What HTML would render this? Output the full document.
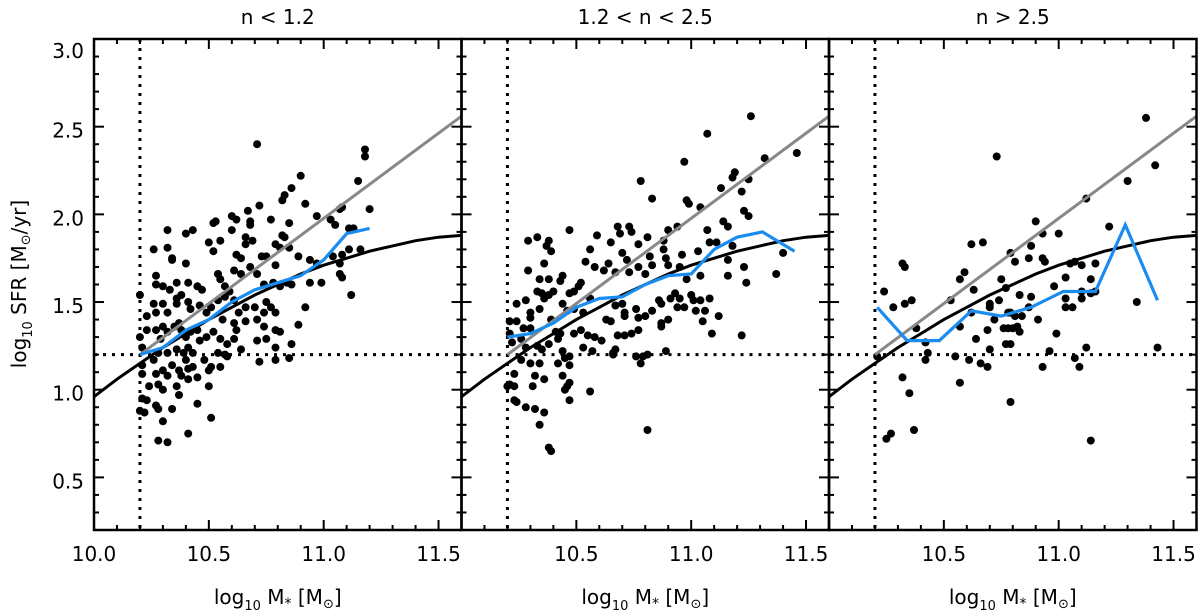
<!DOCTYPE html>
<html><head><meta charset="utf-8">
<style>
html,body{margin:0;padding:0;background:#fff;}
svg{display:block;font-family:"DejaVu Sans","Liberation Sans",sans-serif;}
</style></head>
<body>
<svg id="chart" width="1200" height="614" viewBox="0 0 1200 614" xmlns="http://www.w3.org/2000/svg"></svg>
<script>
const panelTitles = ["n < 1.2", "1.2 < n < 2.5", "n > 2.5"];
const xTicks = [10.0, 10.5, 11.0, 11.5];
const yTicks = [0.5, 1.0, 1.5, 2.0, 2.5, 3.0];
const massCut = 10.2;
const sfrCut = 1.2;
const curveX = [10.0, 10.1, 10.2, 10.3, 10.4, 10.5, 10.6, 10.7, 10.8, 10.9, 11.0, 11.1, 11.2, 11.3, 11.4, 11.5, 11.6];
const curveY = [0.96, 1.06, 1.15, 1.24, 1.32, 1.40, 1.47, 1.54, 1.60, 1.66, 1.71, 1.75, 1.79, 1.82, 1.85, 1.87, 1.88];
const lineX = [10.2, 11.6];
const lineY = [1.2, 2.56];
const medianX1 = [10.2, 10.3, 10.4, 10.5, 10.6, 10.7, 10.8, 10.9, 11.0, 11.1, 11.2];
const medianY1 = [1.20, 1.24, 1.34, 1.40, 1.50, 1.57, 1.61, 1.65, 1.74, 1.89, 1.92];
const medianX2 = [10.2, 10.3, 10.4, 10.5, 10.6, 10.7, 10.8, 10.9, 11.0, 11.1, 11.2, 11.31, 11.45];
const medianY2 = [1.30, 1.32, 1.38, 1.47, 1.52, 1.53, 1.60, 1.65, 1.66, 1.80, 1.87, 1.90, 1.79];
const medianX3 = [10.21, 10.34, 10.48, 10.62, 10.75, 10.88, 11.02, 11.16, 11.29, 11.43];
const medianY3 = [1.47, 1.28, 1.28, 1.45, 1.42, 1.47, 1.56, 1.56, 1.94, 1.51];
const pts1 = [[10.71,2.40],[11.18,2.37],[11.18,2.33],[10.90,2.22],[11.15,2.19],[10.86,2.15],[10.83,2.11],[10.82,2.08],[10.92,2.06],[10.72,2.05],[11.08,2.04],[11.20,2.03],[11.07,2.03],[10.32,1.91],[10.40,1.89],[10.43,1.91],[10.52,1.95],[10.53,1.96],[10.60,1.99],[10.62,1.97],[10.67,2.02],[10.68,1.96],[10.68,1.94],[10.60,1.91],[10.77,1.97],[10.85,1.95],[10.97,1.99],[11.03,1.97],[11.05,1.94],[11.11,1.92],[11.13,1.92],[10.26,1.80],[10.32,1.81],[10.34,1.74],[10.34,1.75],[10.40,1.72],[10.50,1.84],[10.55,1.85],[10.52,1.79],[10.66,1.87],[10.66,1.83],[10.69,1.85],[10.62,1.77],[10.64,1.75],[10.68,1.70],[10.73,1.76],[10.75,1.76],[10.79,1.83],[10.82,1.88],[10.83,1.87],[10.81,1.81],[10.85,1.81],[10.89,1.76],[10.94,1.74],[10.79,1.71],[11.04,1.76],[11.08,1.77],[11.07,1.72],[11.11,1.80],[11.16,1.80],[11.07,1.66],[11.08,1.64],[11.12,1.54],[10.94,1.61],[10.92,1.47],[10.89,1.37],[10.27,1.65],[10.27,1.60],[10.20,1.54],[10.30,1.59],[10.33,1.57],[10.36,1.61],[10.41,1.61],[10.45,1.59],[10.47,1.57],[10.54,1.66],[10.55,1.63],[10.57,1.59],[10.59,1.56],[10.61,1.68],[10.64,1.66],[10.71,1.66],[10.74,1.60],[10.78,1.61],[10.81,1.59],[10.84,1.61],[10.86,1.60],[10.26,1.49],[10.27,1.44],[10.30,1.49],[10.32,1.44],[10.36,1.52],[10.36,1.49],[10.38,1.54],[10.41,1.50],[10.42,1.46],[10.46,1.48],[10.49,1.44],[10.51,1.47],[10.54,1.51],[10.57,1.53],[10.61,1.51],[10.63,1.44],[10.66,1.47],[10.70,1.47],[10.74,1.44],[10.75,1.50],[10.77,1.47],[10.79,1.44],[10.56,1.40],[10.61,1.38],[10.62,1.34],[10.66,1.39],[10.71,1.40],[10.74,1.36],[10.79,1.34],[10.81,1.33],[10.20,1.30],[10.23,1.34],[10.23,1.42],[10.27,1.34],[10.30,1.36],[10.29,1.29],[10.32,1.33],[10.35,1.36],[10.37,1.38],[10.38,1.34],[10.40,1.30],[10.42,1.33],[10.45,1.34],[10.46,1.28],[10.49,1.30],[10.52,1.33],[10.55,1.29],[10.58,1.26],[10.61,1.29],[10.64,1.23],[10.71,1.28],[10.75,1.29],[10.79,1.24],[10.86,1.26],[10.21,1.24],[10.28,1.21],[10.32,1.21],[10.36,1.23],[10.39,1.21],[10.41,1.24],[10.43,1.21],[10.48,1.17],[10.54,1.21],[10.57,1.20],[10.58,1.19],[10.72,1.16],[10.79,1.17],[10.85,1.18],[10.21,1.14],[10.26,1.17],[10.30,1.11],[10.34,1.14],[10.37,1.11],[10.40,1.17],[10.41,1.12],[10.43,1.13],[10.51,1.13],[10.55,1.13],[10.21,1.09],[10.27,1.09],[10.32,1.08],[10.38,1.08],[10.41,1.06],[10.45,1.07],[10.50,1.11],[10.24,1.02],[10.28,1.03],[10.36,1.02],[10.50,1.02],[10.21,0.95],[10.23,0.94],[10.30,1.00],[10.37,0.97],[10.20,0.88],[10.22,0.87],[10.27,0.91],[10.28,0.89],[10.34,0.89],[10.30,0.82],[10.45,0.92],[10.51,0.84],[10.28,0.71],[10.32,0.70],[10.41,0.75],[10.97,1.72],[10.99,1.61]];
const pts2 = [[11.26,2.56],[11.07,2.46],[10.97,2.30],[11.32,2.32],[11.46,2.35],[10.78,2.19],[10.83,2.09],[11.19,2.24],[11.18,2.21],[11.13,2.15],[11.22,2.13],[11.25,2.20],[10.98,2.08],[10.99,2.06],[11.04,2.04],[11.23,2.02],[11.25,1.99],[10.47,1.91],[10.59,1.88],[10.29,1.85],[10.33,1.87],[10.38,1.85],[10.37,1.82],[10.39,1.79],[10.68,1.93],[10.73,1.93],[10.74,1.90],[10.69,1.89],[10.65,1.84],[10.77,1.83],[10.81,1.87],[10.88,1.85],[10.90,1.91],[10.94,1.93],[11.07,1.91],[11.08,1.84],[11.14,1.96],[11.16,1.93],[11.18,1.82],[11.11,1.84],[10.56,1.80],[10.54,1.73],[10.58,1.70],[10.62,1.68],[10.64,1.72],[10.67,1.67],[10.70,1.78],[10.72,1.74],[10.73,1.67],[10.77,1.70],[10.80,1.66],[10.82,1.76],[10.83,1.71],[10.88,1.80],[10.89,1.75],[10.90,1.71],[10.96,1.77],[10.95,1.70],[10.98,1.63],[11.03,1.79],[11.04,1.65],[11.16,1.74],[11.16,1.65],[11.23,1.70],[11.24,1.61],[11.37,1.66],[11.40,1.78],[11.22,1.31],[10.36,1.72],[10.29,1.68],[10.34,1.63],[10.38,1.63],[10.33,1.56],[10.35,1.55],[10.38,1.54],[10.36,1.52],[10.40,1.56],[10.43,1.62],[10.44,1.65],[10.47,1.55],[10.51,1.59],[10.52,1.61],[10.49,1.56],[10.56,1.52],[10.24,1.49],[10.28,1.51],[10.30,1.44],[10.34,1.46],[10.30,1.41],[10.21,1.39],[10.24,1.39],[10.27,1.35],[10.30,1.35],[10.39,1.40],[10.44,1.49],[10.46,1.45],[10.49,1.46],[10.53,1.44],[10.49,1.32],[10.52,1.34],[10.55,1.31],[10.58,1.30],[10.63,1.40],[10.65,1.39],[10.67,1.48],[10.70,1.49],[10.71,1.44],[10.71,1.42],[10.71,1.31],[10.68,1.31],[10.74,1.32],[10.77,1.34],[10.76,1.46],[10.77,1.41],[10.80,1.42],[10.83,1.45],[10.86,1.51],[10.87,1.49],[10.91,1.52],[10.93,1.55],[10.95,1.52],[10.94,1.47],[10.97,1.47],[10.90,1.40],[10.87,1.38],[10.87,1.36],[11.00,1.54],[11.01,1.51],[11.04,1.51],[11.02,1.45],[11.06,1.45],[11.08,1.52],[11.05,1.39],[11.09,1.32],[11.12,1.42],[10.21,1.32],[10.22,1.27],[10.26,1.29],[10.28,1.24],[10.26,1.17],[10.30,1.15],[10.34,1.15],[10.33,1.25],[10.35,1.23],[10.38,1.26],[10.42,1.29],[10.41,1.33],[10.43,1.32],[10.42,1.15],[10.44,1.22],[10.45,1.18],[10.47,1.19],[10.47,1.14],[10.53,1.24],[10.57,1.22],[10.61,1.28],[10.66,1.21],[10.67,1.23],[10.66,1.20],[10.76,1.19],[10.78,1.15],[10.79,1.19],[10.81,1.20],[10.89,1.22],[10.23,1.09],[10.21,1.03],[10.20,1.02],[10.23,1.02],[10.32,1.08],[10.31,1.02],[10.36,1.06],[10.44,1.08],[10.47,1.04],[10.46,1.02],[10.45,1.00],[10.47,0.94],[10.23,0.94],[10.24,0.93],[10.28,0.90],[10.32,0.89],[10.36,0.87],[10.34,0.80],[10.56,0.99],[10.81,0.77],[10.38,0.67],[10.39,0.65]];
const pts3 = [[10.73,2.33],[11.38,2.55],[11.42,2.28],[11.30,2.19],[11.12,2.09],[11.22,1.93],[10.90,1.96],[11.00,1.89],[10.93,1.89],[10.67,1.84],[10.62,1.83],[10.79,1.78],[10.88,1.82],[10.87,1.75],[10.81,1.73],[10.93,1.75],[10.94,1.73],[10.59,1.67],[10.57,1.63],[10.75,1.63],[10.77,1.58],[10.63,1.57],[10.98,1.59],[11.03,1.64],[11.05,1.72],[11.07,1.73],[11.10,1.71],[11.16,1.72],[11.14,1.63],[11.16,1.56],[11.10,1.56],[11.10,1.52],[11.03,1.52],[11.06,1.47],[11.03,1.47],[10.83,1.54],[10.88,1.53],[10.87,1.47],[10.74,1.51],[10.70,1.49],[10.70,1.47],[10.72,1.40],[10.78,1.44],[10.79,1.44],[10.81,1.42],[10.84,1.42],[10.91,1.40],[10.76,1.35],[10.78,1.35],[10.80,1.35],[10.82,1.36],[10.83,1.33],[10.77,1.26],[10.79,1.26],[10.69,1.34],[10.64,1.29],[10.70,1.23],[10.57,1.36],[10.53,1.51],[10.99,1.32],[10.96,1.22],[10.93,1.13],[11.12,1.24],[11.14,1.55],[11.07,1.18],[11.09,1.13],[11.43,1.24],[11.34,1.50],[10.61,1.17],[10.66,1.15],[10.69,1.13],[10.55,1.19],[10.57,1.04],[10.79,0.93],[11.14,0.71],[10.42,1.27],[10.43,1.21],[10.42,1.17],[10.38,1.35],[10.21,1.19],[10.32,1.07],[10.35,0.98],[10.37,0.77],[10.25,0.72],[10.27,0.75],[10.32,1.72],[10.33,1.70],[10.24,1.56],[10.28,1.47],[10.33,1.49],[10.36,1.51],[10.62,1.44]];

const svg = document.getElementById('chart');
const NS = 'http://www.w3.org/2000/svg';
const X0 = 10.0, X1 = 11.6, Y0 = 0.2, Y1 = 3.0;
const TOP = 39, BOT = 530, PW = 367.5;
const lefts = [94, 461.5, 829];
function mk(tag, attrs, parent) {
  const e = document.createElementNS(NS, tag);
  for (const k in attrs) e.setAttribute(k, attrs[k]);
  (parent || svg).appendChild(e);
  return e;
}
function sx(p, v) { return lefts[p] + (v - X0) / (X1 - X0) * PW; }
function sy(v) { return BOT - (v - Y0) / (Y1 - Y0) * (BOT - TOP); }

const allPts = [pts1, pts2, pts3];
const medX = [medianX1, medianX2, medianX3];
const medY = [medianY1, medianY2, medianY3];

for (let p = 0; p < 3; p++) {
  const g = mk('g', {});
  
  
  const L = lefts[p], R = L + PW;
  const clipId = 'clip' + p;
  const cp = mk('clipPath', { id: clipId }, g);
  mk('rect', { x: L, y: TOP, width: PW, height: BOT - TOP }, cp);
  const inner = mk('g', { 'clip-path': 'url(#' + clipId + ')' }, g);

  const vl = mk('line', { x1: sx(p, massCut), x2: sx(p, massCut), y1: TOP, y2: BOT, stroke: '#000', 'stroke-width': 3, 'stroke-dasharray': '3,6' }, inner);
  
  
  const hl = mk('line', { x1: L, x2: R, y1: sy(sfrCut), y2: sy(sfrCut), stroke: '#000', 'stroke-width': 3, 'stroke-dasharray': '3,6' }, inner);
  
  

  const dg = mk('g', {}, inner);
  
  
  allPts[p].forEach(pt => {
    const c = mk('circle', { cx: sx(p, pt[0]).toFixed(1), cy: sy(pt[1]).toFixed(1), r: 4, fill: '#000' }, dg);
    
    
  });

  const gl = mk('line', { x1: sx(p, lineX[0]), y1: sy(lineY[0]), x2: sx(p, lineX[1]), y2: sy(lineY[1]), stroke: '#888', 'stroke-width': 3 }, inner);
  
  

  const cpts = curveX.map((x, i) => sx(p, x).toFixed(1) + ',' + sy(curveY[i]).toFixed(1)).join(' ');
  const cl = mk('polyline', { points: cpts, fill: 'none', stroke: '#000', 'stroke-width': 3 }, inner);
  
  

  const mpts = medX[p].map((x, i) => sx(p, x).toFixed(1) + ',' + sy(medY[p][i]).toFixed(1)).join(' ');
  const ml = mk('polyline', { points: mpts, fill: 'none', stroke: '#1a8cf0', 'stroke-width': 3.2 }, inner);
  
  

  for (let t = 100; t <= 116; t++) {
    const v = t / 10, x = sx(p, v), maj = t % 5 === 0, len = maj ? 10 : 5;
    mk('line', { x1: x, x2: x, y1: BOT, y2: BOT - len, stroke: '#000', 'stroke-width': 2 }, g);
    mk('line', { x1: x, x2: x, y1: TOP, y2: TOP + len, stroke: '#000', 'stroke-width': 2 }, g);
  }
  for (let t = 3; t <= 29; t++) {
    const v = t / 10, y = sy(v), maj = t % 5 === 0, len = maj ? 10 : 5;
    mk('line', { x1: L, x2: L + len, y1: y, y2: y, stroke: '#000', 'stroke-width': 2 }, g);
    mk('line', { x1: R, x2: R - len, y1: y, y2: y, stroke: '#000', 'stroke-width': 2 }, g);
  }
  const fr = mk('rect', { x: L, y: TOP, width: PW, height: BOT - TOP, fill: 'none', stroke: '#000', 'stroke-width': 2.5 }, g);
  
  

  xTicks.forEach(v => {
    if (p > 0 && v === 10.0) return;
    const tx = mk('text', { x: sx(p, v), y: 561, 'text-anchor': 'middle', 'font-size': 20, fill: '#000' }, g);
    tx.textContent = v.toFixed(1);
    
    
  });
  const xt = mk('text', { x: L + PW / 2, y: 604, 'text-anchor': 'middle', 'font-size': 20, fill: '#000' }, g);
  xt.innerHTML = 'log<tspan font-size="13" dy="6">10</tspan><tspan dy="-6"> M</tspan><tspan font-size="14" dy="4">*</tspan><tspan dy="-4"> [M</tspan><tspan font-size="13" dy="4">⊙</tspan><tspan dy="-4">]</tspan>';
  
  
  const pt = mk('text', { x: L + PW / 2, y: 24, 'text-anchor': 'middle', 'font-size': 20, fill: '#000' }, g);
  pt.textContent = panelTitles[p];
  
  
}

yTicks.forEach(v => {
  const off = v >= 3.0 ? 19 : 11;
  const t = mk('text', { x: 84, y: sy(v) + off, 'text-anchor': 'end', 'font-size': 20, fill: '#000' });
  t.textContent = v.toFixed(1);
  
  
});
const yt = mk('text', { x: 0, y: 0, 'text-anchor': 'middle', 'font-size': 20, fill: '#000', transform: 'translate(26,284) rotate(-90)' });
yt.innerHTML = 'log<tspan font-size="13" dy="6">10</tspan><tspan dy="-6"> SFR [M</tspan><tspan font-size="13" dy="4">⊙</tspan><tspan dy="-4">/yr]</tspan>';


</script>
</body></html>
